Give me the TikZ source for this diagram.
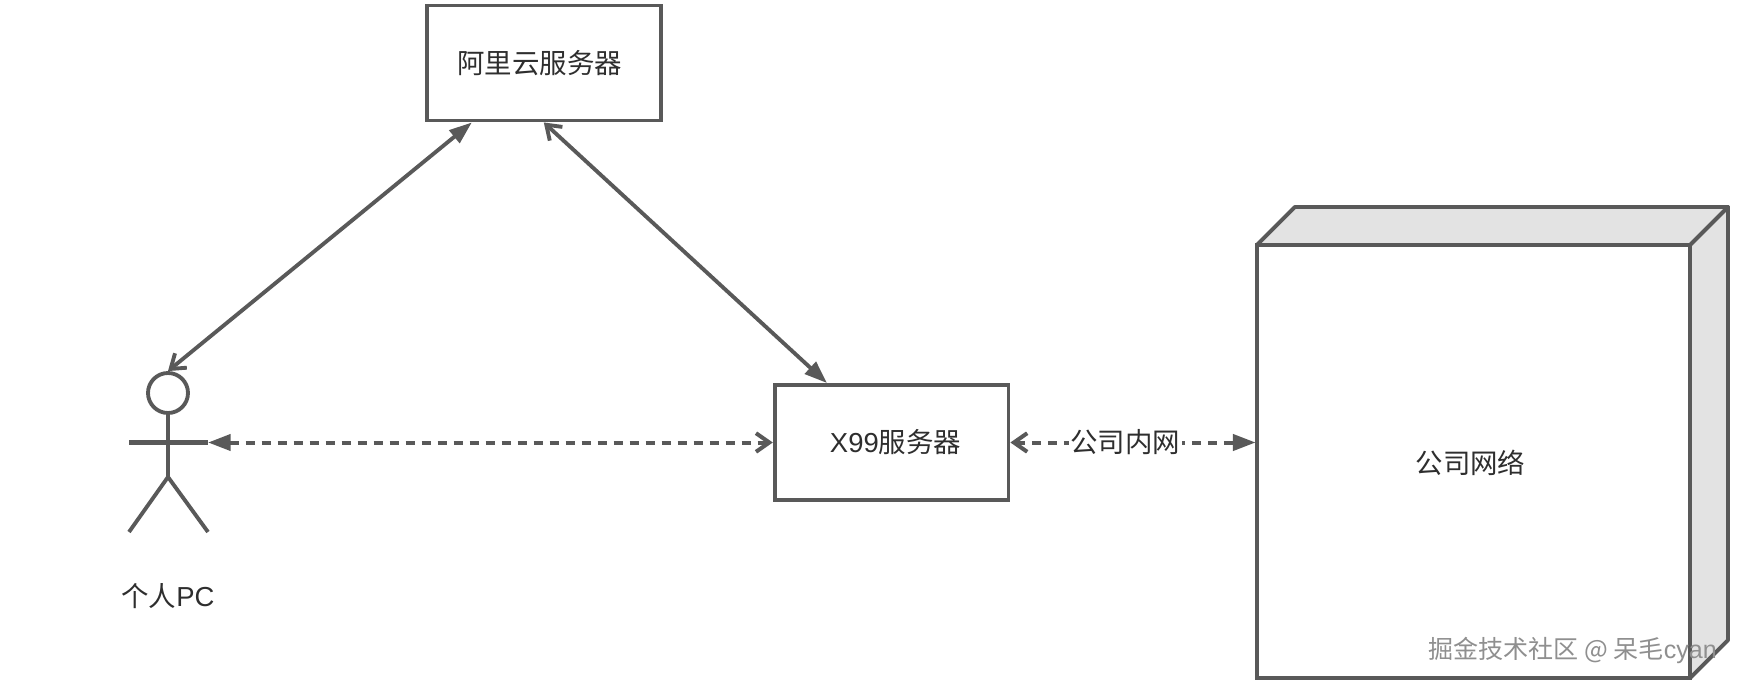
\documentclass[tikz,border=0pt]{standalone}
\usepackage{xcolor}
\usepackage{fontspec}
\setmainfont{Liberation Sans}
\newfontfamily\cjk{Noto Sans CJK SC}
\usetikzlibrary{
    arrows.meta,
    positioning,
    calc
}
\definecolor{netline}{HTML}{595959}
\definecolor{netface}{HTML}{E3E3E3}
\definecolor{nettext}{HTML}{2E2E2E}
\definecolor{netmark}{HTML}{8F8F8F}
\tikzset{
    solidtip/.tip={Triangle[length=17pt,width=12pt]},
    opentip/.tip={Straight Barb[length=10pt,width=14pt]},
    % Server box
    srvbox/.style={
        rectangle,
        draw=netline,
        fill=white,
        line width=2.9pt,
        text=nettext,
        font=\fontsize{20.6}{25}\selectfont,
        minimum width=175.3pt,
        minimum height=86.3pt,
        align=center,
        inner sep=0pt
    },
    % Front face of the network cube
    cubebox/.style={
        srvbox,
        minimum width=324.8pt,
        minimum height=324.8pt,
        outer sep=0pt
    },
    % Side faces of the cube
    cubeface/.style={
        draw=netline,
        fill=netface,
        line width=2.9pt,
        line join=round
    },
    % Stick figure
    stickline/.style={
        draw=netline,
        line width=2.9pt
    },
    % Plain label
    plainlabel/.style={
        text=nettext,
        font=\fontsize{20.6}{25}\selectfont,
        inner sep=1pt
    },
    % Arrow styles
    linkarrow/.style={
        draw=netline,
        line width=2.9pt
    },
    lanarrow/.style={
        linkarrow,
        line width=3pt,
        dash pattern=on 7pt off 5pt
    }
}
\begin{document}
\begin{tikzpicture}[x=0.75pt,y=-0.75pt]
    \useasboundingbox (0,0) rectangle (1740,684);

    % Cube
    \node[cubebox] (corpnet) at (1473.5,461.5) {};
    \draw[cubeface] (corpnet.north west) -- ++(38,-38)
        -- ($(corpnet.north east)+(38,-38)$) -- (corpnet.north east) -- cycle;
    \draw[cubeface] (corpnet.north east) -- ++(38,-38) -- ++(0,433)
        -- (corpnet.south east) -- cycle;
    \node[plainlabel] (corplabel) at (1470.5,463) {\cjk 公司网络};

    % Server boxes
    \node[srvbox] (aliyun) at (543.8,63) {\cjk 阿里云服务器\kern6pt};
    \node[srvbox] (xserver) at (891.6,442.5) {\kern6pt X99\cjk 服务器};

    % Stick figure
    \node[circle, stickline, minimum size=30pt, inner sep=0pt] (head) at (168,393) {};
    \coordinate (hip) at (168,477);
    \coordinate (armleft) at (129,442.5);
    \coordinate (armright) at (208,442.5);
    \coordinate (legleft) at (129,532);
    \coordinate (legright) at (208,532);
    \draw[stickline] (head.south) -- (hip);
    \draw[stickline, line width=3.8pt] (armleft) -- (armright);
    \draw[stickline] (legleft) -- (hip) -- (legright);
    \node[plainlabel] (pclabel) at (168,596) {\cjk 个人\rmfamily PC};

    % Links
    \draw[linkarrow, {solidtip}-{opentip}] ([xshift=-54pt]aliyun.south) -- (head.north);
    \draw[linkarrow, {opentip}-{solidtip}] (aliyun.south) -- ([xshift=-48.5pt]xserver.north);
    \draw[lanarrow, {solidtip}-{opentip}] (armright) -- (xserver.west);
    \draw[lanarrow, {opentip}-{solidtip}, shorten >=1pt] (xserver.east) -- (corpnet.west |- xserver.east)
        node[plainlabel, pos=0.466, fill=white] (lanlabel) {\cjk 公司内网};

    % Watermark
    \node[text=netmark, font=\fontsize{18.8}{22}\selectfont, inner sep=0pt] (watermark) at (1572.5,650)
        {\cjk 掘金技术社区 @ 呆毛\rmfamily cyan};

\end{tikzpicture}
\end{document}
